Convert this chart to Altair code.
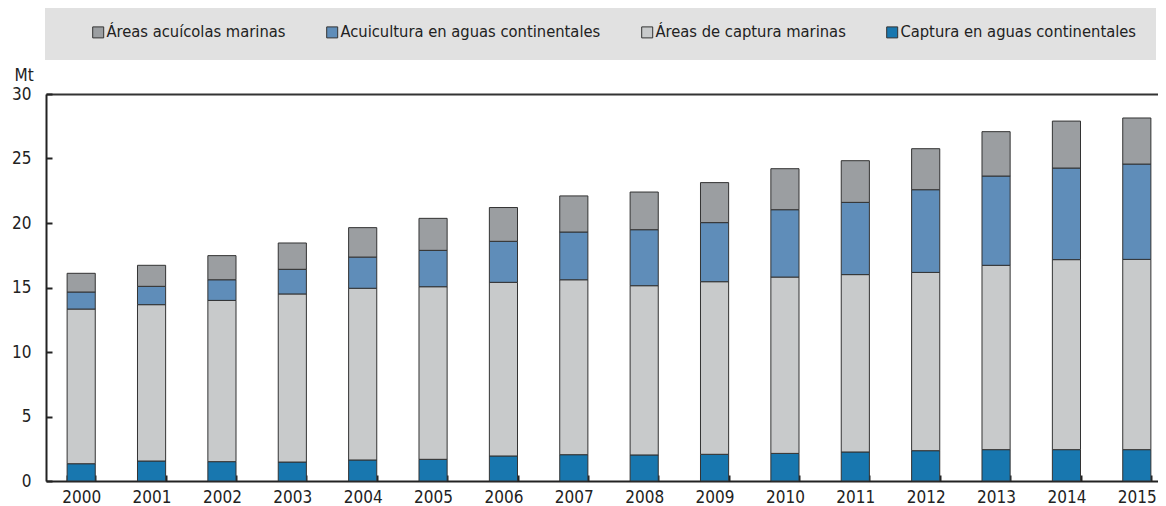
import altair as alt
import pandas as pd

years = [str(y) for y in range(2000, 2016)]
series = [
    "Áreas acuícolas marinas",
    "Acuicultura en aguas continentales",
    "Áreas de captura marinas",
    "Captura en aguas continentales",
]
colors = ["#9b9ea1", "#5f8db9", "#c8cacb", "#1877af"]

captura_continental = [1.34, 1.55, 1.50, 1.47, 1.63, 1.68, 1.94, 2.04, 2.02, 2.07, 2.14, 2.25, 2.35, 2.43, 2.43, 2.43]
captura_marina = [11.99, 12.12, 12.50, 13.03, 13.31, 13.38, 13.46, 13.56, 13.12, 13.38, 13.67, 13.75, 13.82, 14.29, 14.73, 14.75]
acuicultura_continental = [1.32, 1.42, 1.60, 1.91, 2.42, 2.82, 3.18, 3.70, 4.34, 4.58, 5.22, 5.60, 6.41, 6.92, 7.10, 7.39]
acuicola_marina = [1.45, 1.63, 1.87, 2.04, 2.28, 2.48, 2.62, 2.80, 2.92, 3.10, 3.18, 3.23, 3.18, 3.44, 3.64, 3.57]
y_ticks = [0, 5, 10, 15, 20, 25, 30]

stack_parts = [
    (series[3], captura_continental, 0),
    (series[2], captura_marina, 1),
    (series[1], acuicultura_continental, 2),
    (series[0], acuicola_marina, 3),
]
rows = []
for i, yr in enumerate(years):
    for name, vals, order in stack_parts:
        rows.append({"year": yr, "serie": name, "value": vals[i], "order": order})
df = pd.DataFrame(rows)

FONT = "'DejaVu Sans Condensed', Roboto, sans-serif"
TXT = "#222222"

x_scale = alt.Scale(domain=years, range=[0, 1126], paddingInner=0.6, paddingOuter=0.3)
y_scale = alt.Scale(domain=[0, 30], nice=False)

base = alt.Chart(df)

bars = base.mark_bar(stroke="#333333", strokeWidth=1).encode(
    x=alt.X(
        "year:N", scale=x_scale, sort=years,
        axis=alt.Axis(
            title=None, orient="bottom", labelAngle=0, ticks=False, domain=True,
            domainColor=TXT, domainWidth=2, grid=True, gridColor="white", gridWidth=2,
            tickBand="extent", labelPadding=8, labelFontSize=17, labelColor=TXT, labelFont=FONT,
        ),
    ),
    y=alt.Y(
        "value:Q", scale=y_scale, stack="zero",
        axis=alt.Axis(
            values=y_ticks, title="Mt", titleAngle=0, titleX=-32, titleY=-14,
            titleAlign="left", titleBaseline="alphabetic", titleFontSize=17,
            titleFontWeight="normal", titleColor=TXT, titleFont=FONT,
            ticks=False, domain=True, domainColor=TXT, domainWidth=2,
            grid=True, gridColor="white", gridWidth=2,
            labelPadding=15, labelFontSize=17, labelColor=TXT, labelFont=FONT,
        ),
    ),
    color=alt.Color(
        "serie:N", scale=alt.Scale(domain=series, range=colors),
        legend=alt.Legend(
            orient="none", legendX=-1, legendY=-89, direction="horizontal", columns=4,
            fillColor="#e1e1e1", padding=19, title="\u00a0", titleOrient="left",
            titlePadding=26, labelFont=FONT, labelFontSize=16.4, labelColor=TXT,
            symbolType="square", symbolSize=121, symbolStrokeColor="#333333",
            symbolStrokeWidth=1, symbolOpacity=1, labelOffset=0, columnPadding=38,
            labelLimit=400,
        ),
    ),
    order=alt.Order("order:Q", sort="ascending"),
)

tick_layer = base.mark_bar(opacity=0).encode(
    x=alt.X(
        "year:N", scale=x_scale, sort=years,
        axis=alt.Axis(
            title=None, orient="bottom", offset=-6, domain=False, labels=False,
            ticks=True, tickSize=6, tickWidth=2, tickColor=TXT, tickBand="extent", grid=False,
        ),
    ),
    y=alt.Y(
        "value:Q", scale=y_scale, stack="zero",
        axis=alt.Axis(
            values=y_ticks, title=None, orient="left", offset=-6, domain=False,
            labels=False, ticks=True, tickSize=6, tickWidth=2, tickColor=TXT, grid=False,
        ),
    ),
)

top_layer = base.mark_bar(opacity=0).encode(
    x=alt.X(
        "year:N", scale=x_scale, sort=years,
        axis=alt.Axis(
            title=None, orient="top", domain=True, domainColor="#333333", domainWidth=2,
            labels=False, ticks=False, grid=False,
        ),
    ),
    y=alt.Y("value:Q", scale=y_scale, stack="zero", axis=None),
)

chart = (
    alt.layer(bars, tick_layer, top_layer)
    .resolve_axis(x="independent", y="independent")
    .properties(
        width=1112, height=387,
        autosize=alt.AutoSizeParams(type="none"),
        padding={"left": 38, "top": 86, "right": 0, "bottom": 25},
    )
    .configure_view(stroke=None, fill="#eef1f8")
    .configure(font=FONT)
)

chart.save("out.html", embed_options={"renderer": "svg", "actions": False})
